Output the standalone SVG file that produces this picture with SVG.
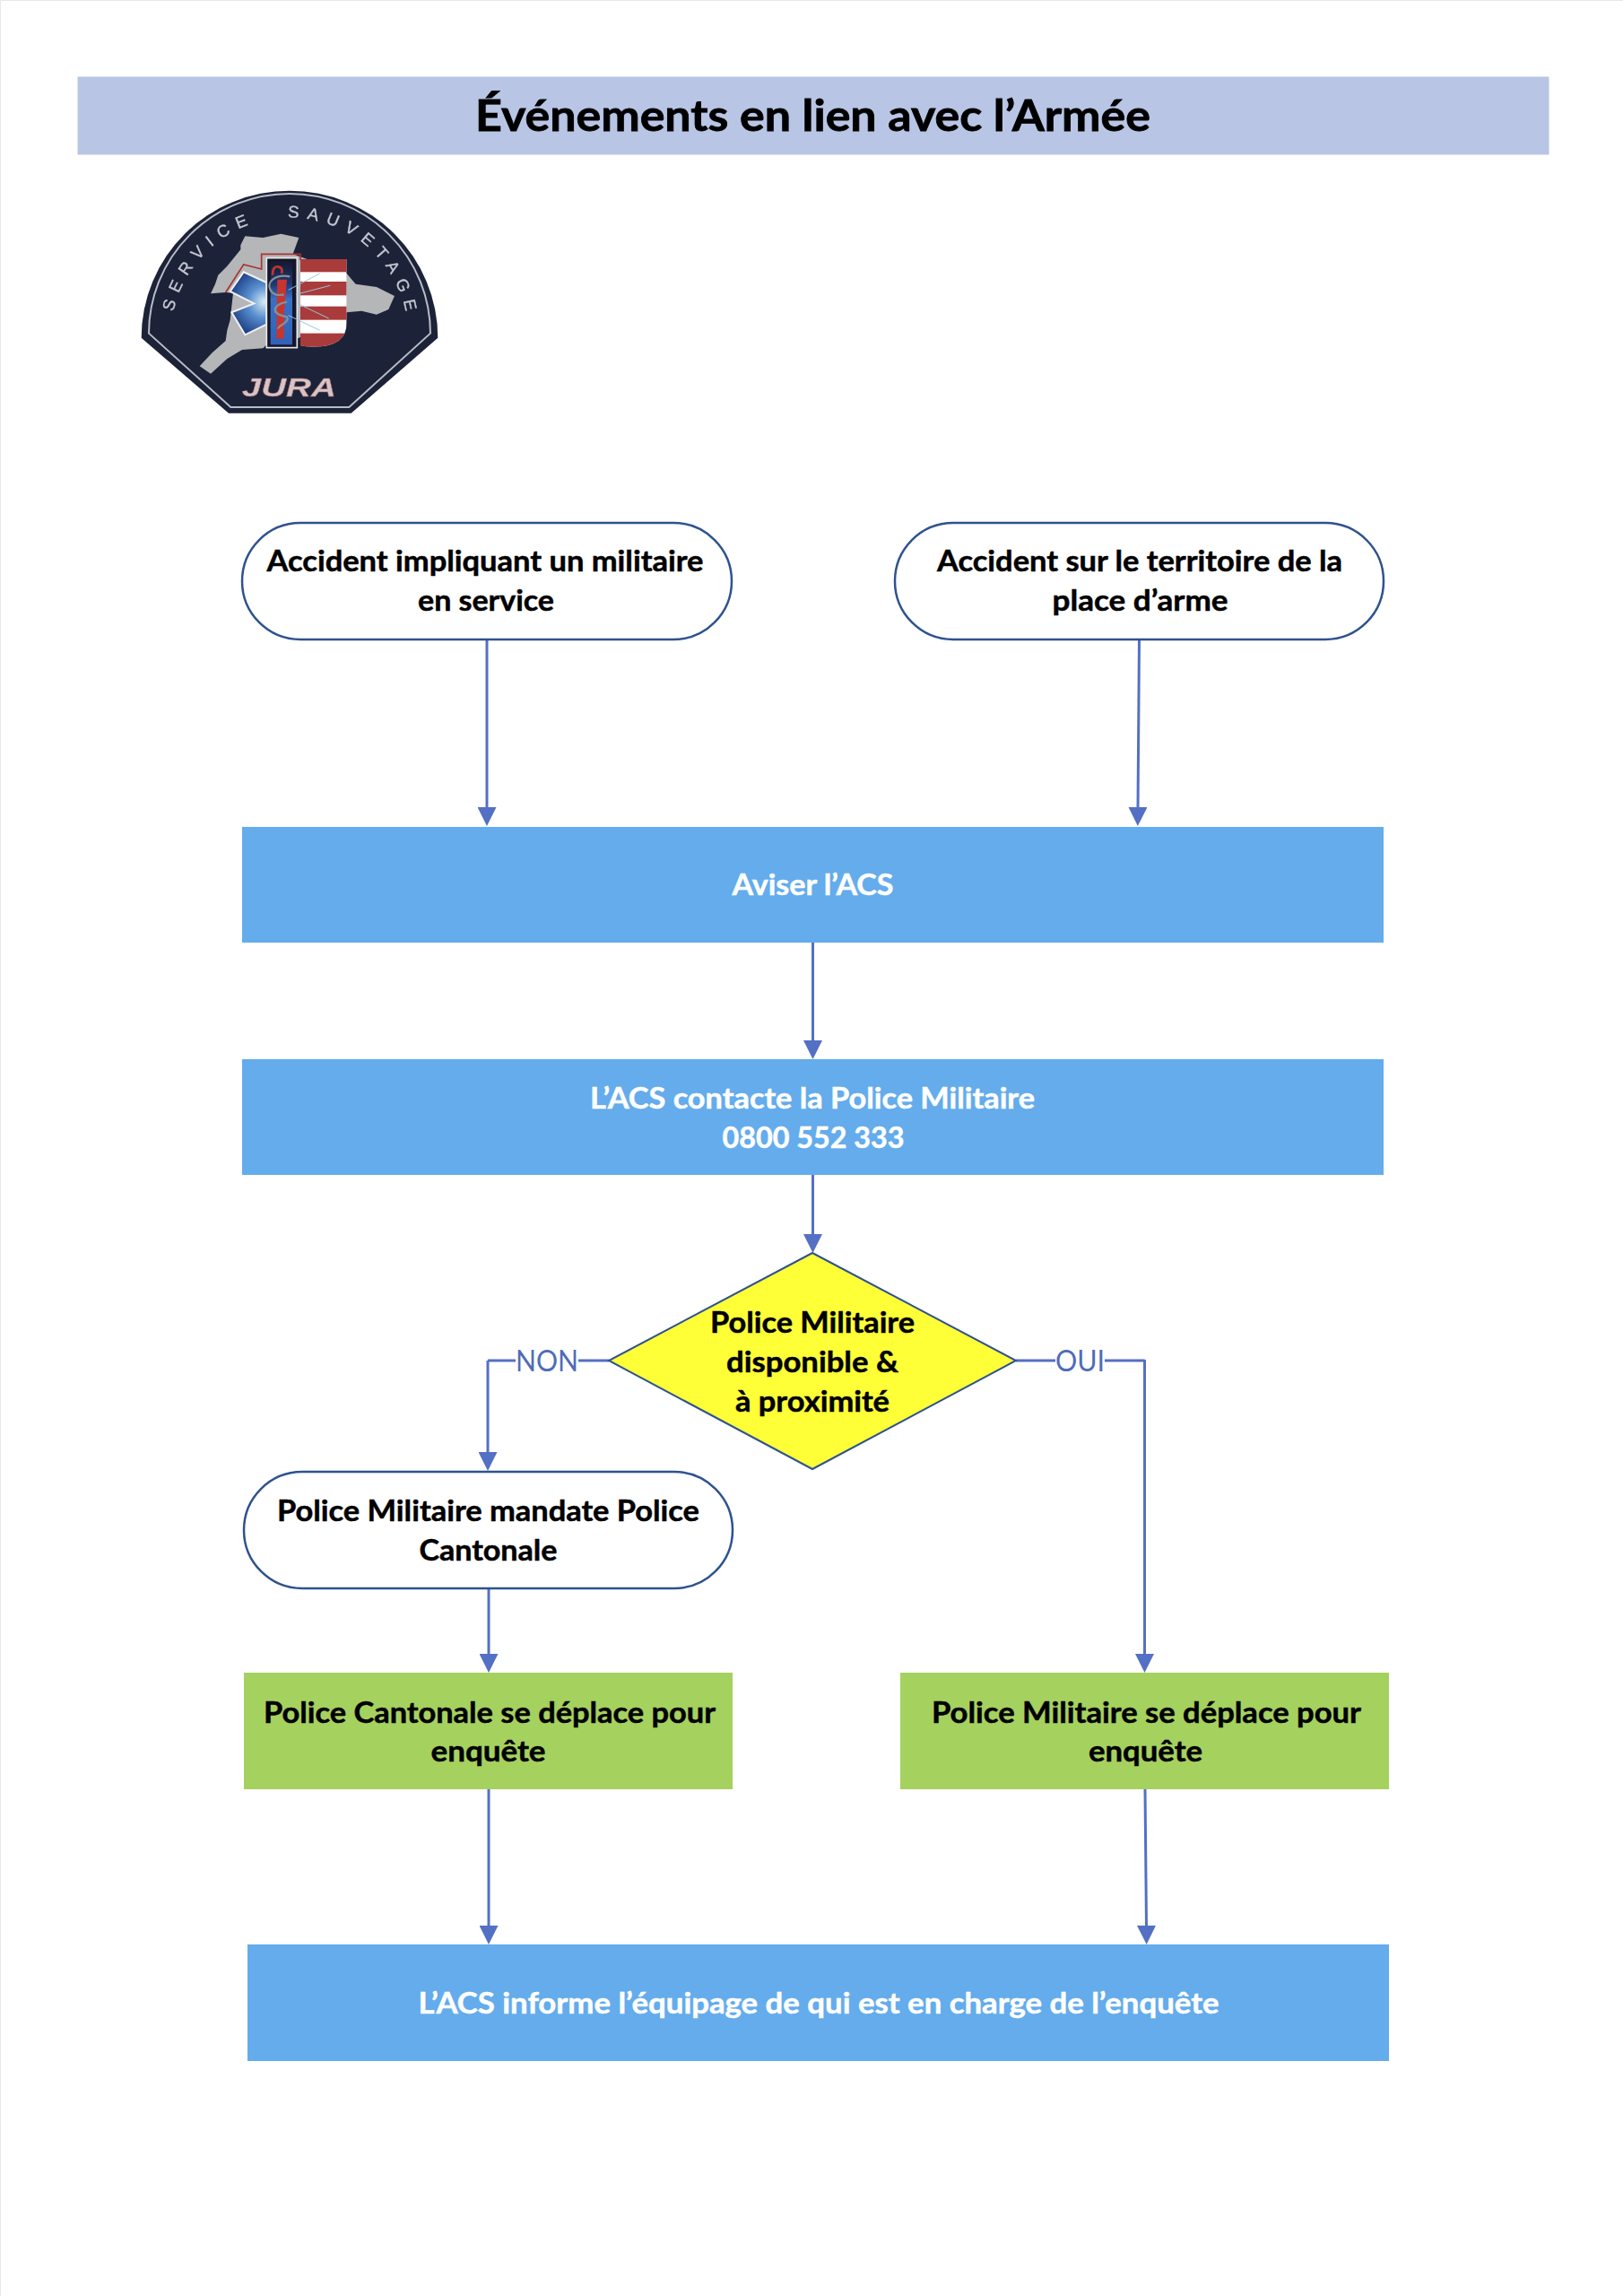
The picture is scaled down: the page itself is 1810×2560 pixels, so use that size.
<svg xmlns="http://www.w3.org/2000/svg" width="1810" height="2560" viewBox="0 0 1810 2560">
<style>
.t{font-family:Lato,"Open Sans","Liberation Sans",sans-serif;font-weight:700;font-size:33px;fill:#000;stroke:#000;stroke-width:.5;text-anchor:middle}
.w{fill:#fff;stroke:#fff}
.title{font-size:47px;stroke-width:.8}
.lab{font-family:Lato,"Open Sans","Liberation Sans",sans-serif;font-weight:400;font-size:32px;fill:#4f6cb8;text-anchor:middle}
.round{fill:#fff;stroke:#2f528f;stroke-width:2.5}
.blue{fill:#64acec}
.green{fill:#a5d15f}
.c{fill:none;stroke:#5470c4;stroke-width:3;marker-end:url(#arr)}
.n{fill:none;stroke:#5470c4;stroke-width:3}
.lg{font-family:"Liberation Sans",Arial,sans-serif;font-size:56px;fill:#c4c8d2;stroke:#c4c8d2;stroke-width:1}
</style>
<defs>
<marker id="arr" markerUnits="userSpaceOnUse" viewBox="0 0 21 21" markerWidth="21" markerHeight="21" refX="1" refY="10.5" orient="auto"><path d="M0,0L21,10.5L0,21Z" fill="#5470c4"/></marker>
<radialGradient id="star" gradientUnits="userSpaceOnUse" cx="525" cy="440" r="120"><stop offset="0" stop-color="#d8ecf5"/><stop offset=".45" stop-color="#5a8fd0"/><stop offset="1" stop-color="#1c3f86"/></radialGradient>
<linearGradient id="bar" x1="0" y1="0" x2="0" y2="1"><stop offset="0" stop-color="#151a30"/><stop offset=".28" stop-color="#1f3a78"/><stop offset=".45" stop-color="#3a70c4"/><stop offset="1" stop-color="#2f62b8"/></linearGradient>
<clipPath id="shield"><path d="M645,297H800V510Q800,590 690,590Q660,590 645,585Z"/></clipPath>
<path id="arcT" d="M212,555A397,397 0 0 1 1006,555"/>
<filter id="soft" x="0" y="0" width="1" height="1"><feGaussianBlur stdDeviation="1.5"/></filter>
</defs>
<rect width="1810" height="2560" fill="#fff"/>
<path d="M0.5,2560V0.5H1810" fill="none" stroke="#e8e8e8" stroke-width="1"/>
<g id="title"><rect x="86.5" y="85.5" width="1641" height="87" fill="#b8c5e5"/><text class="t title" x="906.5" y="146" textLength="753" lengthAdjust="spacingAndGlyphs">Événements en lien avec l’Armée</text></g>
<g id="logo" transform="translate(120,190) scale(.3333)" filter="url(#soft)">
<path d="M113,560A496,492 0 0 1 1105,560L815,812H405Z" fill="#1e2238"/>
<path d="M138,545A471,467 0 0 1 1080,545L808,792H412Z" fill="none" stroke="#b8bcc6" stroke-width="6"/>
<text class="lg"><textPath href="#arcT" startOffset="82" letter-spacing="26">SERVICE</textPath></text>
<text class="lg"><textPath href="#arcT" startOffset="617" letter-spacing="26">SAUVETAGE</textPath></text>
<path d="M445,250L460,220L520,225L580,212L640,225L620,280L800,345L830,380L900,390L960,420L940,465L900,482L850,470L800,475L640,560L530,585L520,595L450,600L400,630L345,680L308,655L350,610L395,570L400,535L410,500L420,410L395,408L345,412L360,380L370,350L400,320L445,265Z" fill="#b4b6b8"/>
<path d="M395,408L455,315L515,330V280H645V300" fill="none" stroke="#a83434" stroke-width="5"/>
<path d="M532,375L455,340L410,405L490,445L415,475L460,550L532,515Z" fill="url(#star)" stroke="#f2f2f2" stroke-width="6"/>
<rect x="532" y="293" width="102" height="300" fill="#14182c" stroke="#e8e8e8" stroke-width="5"/>
<rect x="545" y="305" width="73" height="278" fill="url(#bar)"/>
<g clip-path="url(#shield)"><rect x="640" y="290" width="170" height="310" fill="#fff"/>
<rect x="640" y="290" width="170" height="50" fill="#a93a3a"/><rect x="640" y="372" width="170" height="46" fill="#a93a3a"/><rect x="640" y="455" width="170" height="45" fill="#a93a3a"/><rect x="640" y="545" width="170" height="50" fill="#a93a3a"/></g>
<path d="M568,365L600,365L590,480L590,560L565,565Z" fill="#c8352e"/>
<path d="M552,350Q552,320 570,322Q588,325 582,345" fill="none" stroke="#c8352e" stroke-width="8"/>
<path d="M610,355C560,345 530,375 545,400C552,415 570,420 590,415M600,440C550,450 545,480 600,490C612,510 565,520 572,530" fill="none" stroke="#8a8f96" stroke-width="7"/>
<path d="M605,400L710,345M630,415L745,385M635,445L740,495M605,485L710,535" fill="none" stroke="#9cc4de" stroke-width="3"/>
<text x="607" y="755" text-anchor="middle" textLength="315" lengthAdjust="spacingAndGlyphs" font-family="Liberation Sans,Arial,sans-serif" font-weight="700" font-style="italic" font-size="90" fill="#d6c4c6" stroke="#a96c6c" stroke-width="1.5">JURA</text>
</g>
<g id="connectors">
<path class="c" d="M543,712V901"/>
<path class="c" d="M1270.5,712L1269,901"/>
<path class="c" d="M906.5,1051V1161"/>
<path class="c" d="M906.5,1310V1377"/>
<path class="n" d="M679,1517H645M575,1517H544"/>
<path class="c" d="M544,1517V1620"/>
<path class="n" d="M1133,1517H1177M1232,1517H1276.5"/>
<path class="c" d="M1276.5,1516V1845"/>
<path class="c" d="M545,1771V1845"/>
<path class="c" d="M545,1995V2148"/>
<path class="c" d="M1277,1995L1278.5,2148"/>
<text class="lab" x="610" y="1529" textLength="70" lengthAdjust="spacingAndGlyphs">NON</text>
<text class="lab" x="1204.5" y="1529" textLength="55" lengthAdjust="spacingAndGlyphs">OUI</text>
</g>
<g id="n1"><rect class="round" x="270" y="583" width="546" height="130" rx="65"/><text class="t" x="541" y="637" textLength="487" lengthAdjust="spacingAndGlyphs">Accident impliquant un militaire</text><text class="t" x="542" y="681" textLength="152" lengthAdjust="spacingAndGlyphs">en service</text></g>
<g id="n2"><rect class="round" x="998" y="583" width="545" height="130" rx="65"/><text class="t" x="1271" y="637" textLength="452" lengthAdjust="spacingAndGlyphs">Accident sur le territoire de la</text><text class="t" x="1271.5" y="681" textLength="196" lengthAdjust="spacingAndGlyphs">place d’arme</text></g>
<g id="n3"><rect class="blue" x="270" y="922" width="1273" height="129"/><text class="t w" x="906.5" y="998" textLength="180" lengthAdjust="spacingAndGlyphs">Aviser l’ACS</text></g>
<g id="n4"><rect class="blue" x="270" y="1181" width="1273" height="129"/><text class="t w" x="906" y="1236" textLength="496" lengthAdjust="spacingAndGlyphs">L’ACS contacte la Police Militaire</text><text class="t w" x="907" y="1280" textLength="203" lengthAdjust="spacingAndGlyphs">0800 552 333</text></g>
<g id="n5"><path d="M906,1397L1133,1517L906,1638L679,1517Z" fill="#ffff38" stroke="#2f528f" stroke-width="2"/><text class="t" x="906" y="1486" textLength="228" lengthAdjust="spacingAndGlyphs">Police Militaire</text><text class="t" x="906" y="1530" textLength="192" lengthAdjust="spacingAndGlyphs">disponible &amp;</text><text class="t" x="906" y="1574" textLength="172" lengthAdjust="spacingAndGlyphs">à proximité</text></g>
<g id="n6"><rect class="round" x="272" y="1641" width="545" height="130" rx="65"/><text class="t" x="544.5" y="1696" textLength="471" lengthAdjust="spacingAndGlyphs">Police Militaire mandate Police</text><text class="t" x="544.5" y="1740" textLength="154" lengthAdjust="spacingAndGlyphs">Cantonale</text></g>
<g id="n7"><rect class="green" x="272" y="1865" width="545" height="130"/><text class="t" x="546" y="1921" textLength="504" lengthAdjust="spacingAndGlyphs">Police Cantonale se déplace pour</text><text class="t" x="544.5" y="1964" textLength="128" lengthAdjust="spacingAndGlyphs">enquête</text></g>
<g id="n8"><rect class="green" x="1004" y="1865" width="545" height="130"/><text class="t" x="1278.5" y="1921" textLength="479" lengthAdjust="spacingAndGlyphs">Police Militaire se déplace pour</text><text class="t" x="1277.5" y="1964" textLength="127" lengthAdjust="spacingAndGlyphs">enquête</text></g>
<g id="n9"><rect class="blue" x="276" y="2168" width="1273" height="130"/><text class="t w" x="913" y="2245" textLength="893" lengthAdjust="spacingAndGlyphs">L’ACS informe l’équipage de qui est en charge de l’enquête</text></g>
</svg>
